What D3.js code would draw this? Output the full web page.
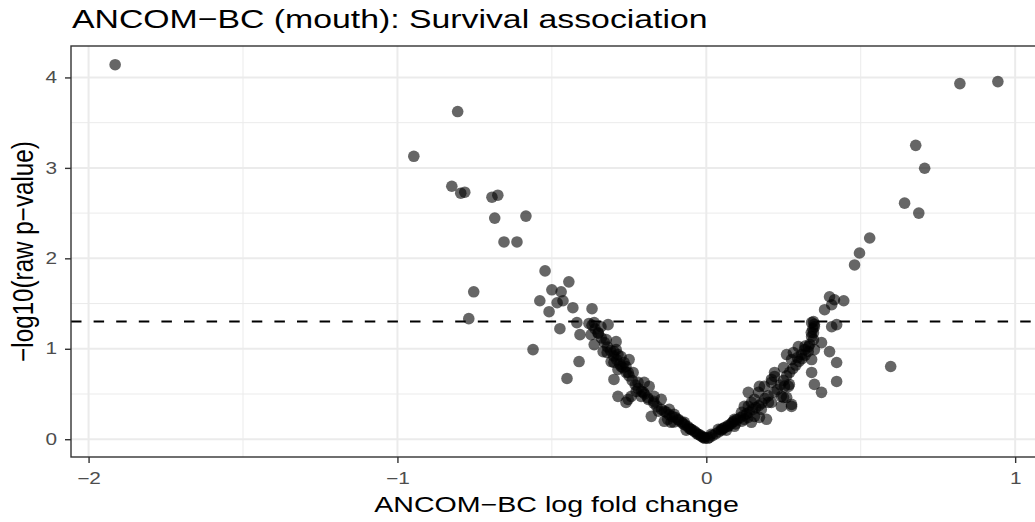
<!DOCTYPE html>
<html>
<head>
<meta charset="utf-8">
<script src="https://cdn.jsdelivr.net/npm/d3@7"></script>
<style>
  body { margin: 0; background: #fff; }
  text { font-family: "Liberation Sans", Arial, sans-serif; }
</style>
</head>
<body>
<div id="chart"></div>
<script>
// ANCOM-BC log fold change per taxon
var lfc = [
  -1.914, -0.947, -0.805, -0.824, -0.795, -0.782, -0.694, -0.675, -0.685, -0.584,
  -0.655, -0.613, -0.753, -0.769, -0.561, -0.522, -0.445, -0.500, -0.470, -0.539,
  -0.483, -0.464, -0.509, -0.432, -0.370, -0.474, -0.412, -0.451, -0.419, -0.409,
  -0.363, -0.341, -0.318, -0.350, -0.324, -0.292, -0.334, -0.299, -0.276, -0.308,
  -0.286, -0.260, -0.299, -0.253, -0.286, -0.253, -0.373, -0.363, -0.266, -0.250,
  -0.237, -0.221, -0.201, -0.227, -0.204, -0.185, -0.260, -0.243, -0.211, -0.188,
  -0.169, -0.146, -0.178, -0.136, -0.120, -0.104, -0.091, -0.136, -0.114, -0.071,
  -0.049, -0.026, -0.006, 0.016, 0.039, -0.321, -0.292, -0.276, -0.299, -0.286,
  -0.130, -0.120, -0.110, -0.100, -0.090, -0.080, -0.075, -0.070, -0.060, -0.055,
  -0.050, -0.040, -0.035, -0.030, -0.020, -0.015, -0.010, -0.005, -0.145, -0.160,
  -0.170, -0.155, -0.125, -0.105, -0.065,
  -0.170, -0.190, -0.200, -0.210, -0.220, -0.230, -0.240, -0.250, -0.260, -0.270,
  -0.280, -0.290, -0.300, -0.310, -0.320, -0.330, -0.340, -0.350, -0.360, -0.370,
  -0.380,
  0.005, 0.010, 0.020, 0.030, 0.040, 0.050, 0.055, 0.060, 0.070, 0.080,
  0.085, 0.090, 0.100, 0.110, 0.120, 0.130, 0.140, 0.150, 0.160, 0.170,
  0.180, 0.065, 0.095, 0.115, 0.135,
  0.071, 0.091, 0.114, 0.136, 0.156, 0.169, 0.188, 0.211, 0.221, 0.250,
  0.260, 0.282, 0.308, 0.298, 0.331, 0.341, 0.350, 0.347, 0.373, 0.406,
  0.422, 0.399, 0.422, 0.341, 0.341, 0.350, 0.373, 0.422, 0.201, 0.243,
  0.276, 0.253, 0.269, 0.211, 0.195, 0.178, 0.123, 0.136, 0.172, 0.399,
  0.415, 0.445, 0.383, 0.406, 0.480, 0.496, 0.529, 0.678, 0.707, 0.642,
  0.688, 0.821, 0.944, 0.597, 0.341, 0.276, 0.221, 0.260, 0.211, 0.243,
  0.172, 0.146, 0.156, 0.123, 0.091, 0.049, 0.146, 0.295, 0.318, 0.350,
  0.347, 0.347, 0.266, 0.276, 0.250,
  0.190, 0.200, 0.220, 0.230, 0.240, 0.250, 0.260, 0.270, 0.280, 0.290,
  0.300, 0.310, 0.320, 0.330, 0.335, 0.340, 0.345, 0.350, 0.320
];
// -log10 of the raw p-value, same order as lfc
var logp = [
  4.141, 3.128, 3.623, 2.797, 2.720, 2.731, 2.676, 2.698, 2.445, 2.467,
  2.181, 2.181, 1.630, 1.333, 0.991, 1.861, 1.740, 1.652, 1.630, 1.531,
  1.509, 1.531, 1.410, 1.454, 1.443, 1.222, 0.859, 0.672, 1.289, 1.156,
  1.289, 1.244, 1.267, 1.178, 1.101, 1.079, 0.969, 0.969, 0.914, 0.859,
  0.771, 0.804, 0.661, 0.738, 0.474, 0.441, 1.156, 1.046, 0.848, 0.881,
  0.738, 0.628, 0.628, 0.529, 0.518, 0.584, 0.407, 0.474, 0.474, 0.441,
  0.474, 0.441, 0.253, 0.308, 0.330, 0.275, 0.220, 0.198, 0.187, 0.187,
  0.110, 0.055, 0.022, 0.055, 0.110, 0.958, 0.991, 0.804, 0.848, 0.936,
  0.300, 0.270, 0.250, 0.240, 0.210, 0.190, 0.170, 0.160, 0.140, 0.120,
  0.110, 0.090, 0.080, 0.060, 0.045, 0.030, 0.020, 0.010, 0.330, 0.360,
  0.400, 0.310, 0.220, 0.190, 0.100,
  0.420, 0.460, 0.500, 0.530, 0.560, 0.600, 0.650, 0.700, 0.740, 0.790,
  0.830, 0.880, 0.920, 0.980, 1.020, 1.070, 1.120, 1.170, 1.220, 1.260,
  1.280,
  0.010, 0.020, 0.040, 0.060, 0.080, 0.100, 0.120, 0.130, 0.150, 0.170,
  0.190, 0.200, 0.220, 0.240, 0.260, 0.280, 0.300, 0.330, 0.350, 0.370,
  0.400, 0.100, 0.170, 0.200, 0.240,
  0.143, 0.220, 0.297, 0.363, 0.441, 0.518, 0.584, 0.661, 0.738, 0.793,
  0.936, 0.958, 0.936, 1.024, 1.024, 1.134, 1.244, 1.300, 1.068, 1.244,
  1.267, 0.969, 0.848, 0.881, 0.738, 0.606, 0.518, 0.639, 0.407, 0.474,
  0.385, 0.584, 0.606, 0.628, 0.220, 0.330, 0.363, 0.518, 0.584, 1.575,
  1.542, 1.531, 1.432, 1.487, 1.927, 2.059, 2.225, 3.249, 2.996, 2.610,
  2.500, 3.932, 3.954, 0.804, 1.289, 0.881, 0.694, 0.463, 0.407, 0.363,
  0.242, 0.407, 0.253, 0.220, 0.143, 0.110, 0.187, 0.903, 0.991, 0.991,
  1.178, 1.101, 0.584, 0.363, 0.463,
  0.450, 0.480, 0.520, 0.550, 0.600, 0.650, 0.700, 0.740, 0.780, 0.820,
  0.860, 0.890, 0.930, 0.970, 1.050, 1.180, 1.220, 1.270, 1.030
];
var xTicks = [-2, -1, 0, 1];
var yTicks = [0, 1, 2, 3, 4];
var xMinor = [-1.5, -0.5, 0.5];
var yMinor = [0.5, 1.5, 2.5, 3.5];
var pCutoff = 0.05;

var titleText = "ANCOM\u2212BC (mouth): Survival association";
var xLabel = "ANCOM\u2212BC log fold change";
var yLabel = "\u2212log10(raw p\u2212value)";

var width = 1035, height = 522;
var panel = { left: 71, right: 1042, top: 46, bottom: 457 };
// the reference glyphs are drawn wider than normal
var stretch = 1.3;

var data = lfc.map(function (d, i) { return { lfc: d, p: logp[i] }; });

var svg = d3.select("#chart").append("svg")
    .attr("width", width)
    .attr("height", height)
    .style("display", "block");

svg.append("rect").attr("width", width).attr("height", height).attr("fill", "#fff");

// ggplot style 5% expansion
var xExt = d3.extent(lfc), yExt = d3.extent(logp);
var xPad = (xExt[1] - xExt[0]) * 0.05, yPad = (yExt[1] - yExt[0]) * 0.05;

var xScale = d3.scaleLinear()
    .domain([xExt[0] - xPad, xExt[1] + xPad])
    .range([panel.left, panel.right]);
var yScale = d3.scaleLinear()
    .domain([yExt[0] - yPad, yExt[1] + yPad])
    .range([panel.bottom, panel.top]);

var grid = svg.append("g");

grid.selectAll(".xminor").data(xMinor).enter().append("line")
    .attr("x1", function (d) { return xScale(d); })
    .attr("x2", function (d) { return xScale(d); })
    .attr("y1", panel.top).attr("y2", panel.bottom)
    .attr("stroke", "#ebebeb").attr("stroke-width", 1);
grid.selectAll(".yminor").data(yMinor).enter().append("line")
    .attr("y1", function (d) { return yScale(d); })
    .attr("y2", function (d) { return yScale(d); })
    .attr("x1", panel.left).attr("x2", panel.right)
    .attr("stroke", "#ebebeb").attr("stroke-width", 1);
grid.selectAll(".xmajor").data(xTicks).enter().append("line")
    .attr("x1", function (d) { return xScale(d); })
    .attr("x2", function (d) { return xScale(d); })
    .attr("y1", panel.top).attr("y2", panel.bottom)
    .attr("stroke", "#ebebeb").attr("stroke-width", 2);
grid.selectAll(".ymajor").data(yTicks).enter().append("line")
    .attr("y1", function (d) { return yScale(d); })
    .attr("y2", function (d) { return yScale(d); })
    .attr("x1", panel.left).attr("x2", panel.right)
    .attr("stroke", "#ebebeb").attr("stroke-width", 2);

// significance threshold
svg.append("line")
    .attr("x1", panel.left).attr("x2", panel.right)
    .attr("y1", yScale(-Math.log10(pCutoff)))
    .attr("y2", yScale(-Math.log10(pCutoff)))
    .attr("stroke", "#000")
    .attr("stroke-width", 2)
    .attr("stroke-dasharray", "10.5,12.1");

svg.append("g").selectAll("circle")
    .data(data)
    .enter()
    .append("circle")
    .attr("cx", function (d) { return xScale(d.lfc); })
    .attr("cy", function (d) { return yScale(d.p); })
    .attr("r", 5.8)
    .attr("fill", "#000")
    .attr("fill-opacity", 0.6);

// panel border
svg.append("rect")
    .attr("x", panel.left).attr("y", panel.top)
    .attr("width", panel.right - panel.left)
    .attr("height", panel.bottom - panel.top)
    .attr("fill", "none")
    .attr("stroke", "#333")
    .attr("stroke-width", 1.4);

var xAxis = d3.axisBottom(xScale)
    .tickValues(xTicks)
    .tickSize(6)
    .tickFormat(function (d) { return d < 0 ? "\u2212" + Math.abs(d) : d; });
var gx = svg.append("g")
    .attr("transform", "translate(0," + panel.bottom + ")")
    .call(xAxis);
gx.select(".domain").remove();
gx.selectAll(".tick line").attr("stroke", "#333").attr("stroke-width", 1.4);
gx.selectAll(".tick text")
    .attr("y", 16)
    .attr("transform", "scale(" + stretch + ",1)")
    .attr("fill", "#4d4d4d")
    .style("font-size", "16px");

var yAxis = d3.axisLeft(yScale)
    .tickValues(yTicks)
    .tickSize(6)
    .tickFormat(d3.format("d"));
var gy = svg.append("g")
    .attr("transform", "translate(" + panel.left + ",0)")
    .call(yAxis);
gy.select(".domain").remove();
gy.selectAll(".tick line").attr("stroke", "#333").attr("stroke-width", 1.4);
gy.selectAll(".tick text")
    .attr("x", 0)
    .attr("transform", "translate(-14,0) scale(" + stretch + ",1)")
    .attr("fill", "#4d4d4d")
    .style("font-size", "16px");

svg.append("text")
    .attr("transform", "translate(72,28) scale(" + stretch + ",1)")
    .attr("fill", "#000")
    .style("font-size", "26px")
    .text(titleText);

svg.append("text")
    .attr("transform", "translate(" + (panel.left + panel.right) / 2 + ",512) scale(" + stretch + ",1)")
    .attr("text-anchor", "middle")
    .attr("fill", "#000")
    .style("font-size", "22px")
    .text(xLabel);

svg.append("text")
    .attr("transform", "translate(33," + (panel.top + panel.bottom) / 2 + ") rotate(-90) scale(1.1," + stretch + ")")
    .attr("text-anchor", "middle")
    .attr("fill", "#000")
    .style("font-size", "22px")
    .text(yLabel);
</script>
</body>
</html>
